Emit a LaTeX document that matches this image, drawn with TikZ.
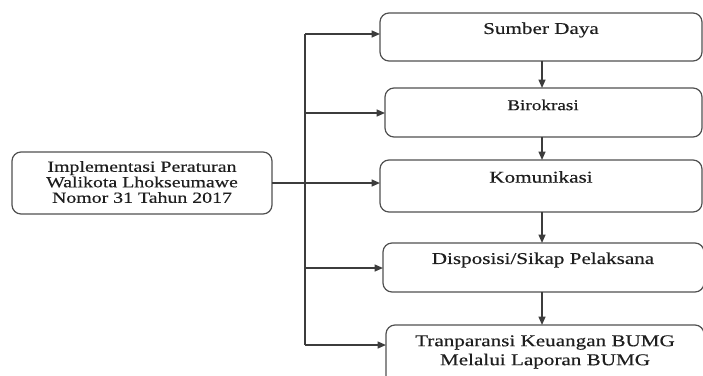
\documentclass[tikz,border=0pt]{standalone}
\usepackage{fontspec}
\setmainfont{Liberation Serif}[FakeStretch=1.28,FakeBold=0.4]
\usetikzlibrary{arrows.meta}
\definecolor{linegray}{RGB}{60,60,60}
\definecolor{boxgray}{RGB}{80,80,80}
\definecolor{txtgray}{RGB}{30,30,30}
\begin{document}
\begin{tikzpicture}[x=1pt,y=-1pt,
  box/.style={draw=boxgray, rounded corners=9pt, line width=1.2pt, inner sep=0pt, outer sep=0pt},
  lbl/.style={inner sep=0pt, align=center, text=txtgray, font=\fontsize{16.5}{19}\selectfont},
  arr/.style={draw=linegray, -{Triangle[length=8.5pt,width=7pt]}, line width=1.5pt},
  ln/.style={draw=linegray, line width=1.5pt}]
\useasboundingbox (0,0) rectangle (703,375);
\clip (0,0) rectangle (703,375);
% boxes
\node[box, minimum width=260pt, minimum height=62pt] (L) at (142,183) {};
\node[box, minimum width=322pt, minimum height=48pt] (b1) at (541,37) {};
\node[box, minimum width=317pt, minimum height=49pt] (b2) at (543.5,112.5) {};
\node[box, minimum width=322pt, minimum height=52pt] (b3) at (541,186) {};
\node[box, minimum width=321pt, minimum height=49pt] (b4) at (543.5,267.5) {};
\node[box, minimum width=318pt, minimum height=65pt] (b5) at (545,357.5) {};
% labels
\node[lbl, font=\fontsize{15.5}{15.5}\selectfont] (tL) at (142,182) {Implementasi Peraturan\\Walikota Lhokseumawe\\Nomor 31 Tahun 2017};
\node[lbl] (t1) at (541,30) {Sumber Daya};
\node[lbl, font=\fontsize{15}{17}\selectfont] (t2) at (543,105) {Birokrasi};
\node[lbl] (t3) at (541,177) {Komunikasi};
\node[lbl] (t4) at (543,260) {Disposisi/Sikap Pelaksana};
\node[lbl] (t5) at (545,352) {Tranparansi Keuangan BUMG\\Melalui Laporan BUMG};
% bus
\coordinate (bt) at (305,34);
\coordinate (j2) at (305,113);
\coordinate (j4) at (305,268);
\coordinate (bb) at (305,345);
\coordinate (v) at (542,0);
\draw[ln] (bt) -- (bb);
\draw[arr] (bt) -- (bt -| b1.west);
\draw[arr] (j2) -- (j2 -| b2.west);
\draw[arr] (L.east) -- (L.east -| b3.west);
\draw[arr] (j4) -- (j4 -| b4.west);
\draw[arr] (bb) -- (bb -| b5.west);
% vertical chain
\draw[arr] (b1.south -| v) -- (b2.north -| v);
\draw[arr] (b2.south -| v) -- (b3.north -| v);
\draw[arr] (b3.south -| v) -- (b4.north -| v);
\draw[arr] (b4.south -| v) -- (b5.north -| v);
\end{tikzpicture}
\end{document}
